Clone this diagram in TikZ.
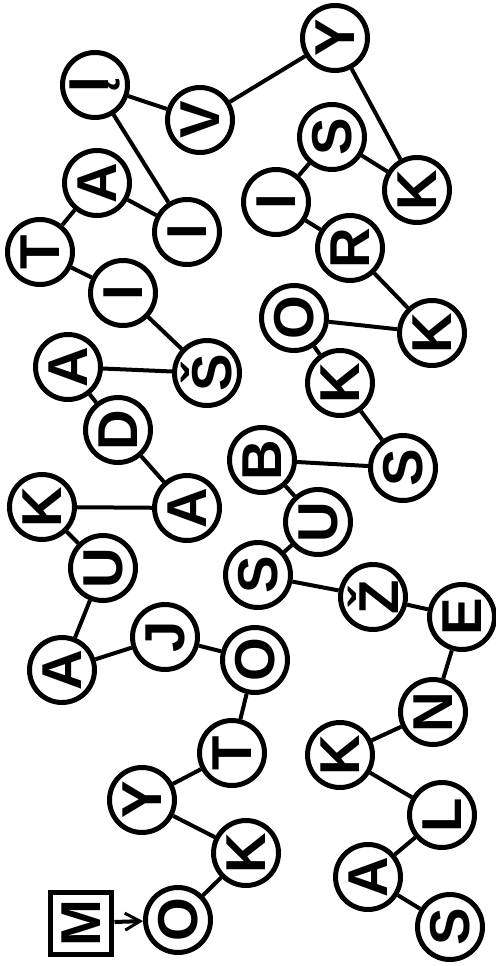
\documentclass[tikz,border=0pt]{standalone}
\usepackage{fontspec}
\setmainfont{Liberation Sans}
\usetikzlibrary{arrows.meta}
\begin{document}
\begin{tikzpicture}[x=0.02cm,y=-0.02cm,
  lt/.style={circle,draw,line width=0.1cm,minimum size=1.3cm,inner sep=0pt,rotate=90,
    font=\fontsize{32}{32}\selectfont\bfseries},
  bx/.style={rectangle,draw,line width=0.1cm,minimum size=1.24cm,inner sep=0pt,rotate=90,
    font=\fontsize{32}{32}\selectfont\bfseries},
  ln/.style={line width=0.08cm}]
\useasboundingbox (0,0) rectangle (495,966);
\node[bx] (m) at (81,923) {M};
\node[lt] (o1) at (178,920) {O};
\node[lt] (k1) at (246,853) {K};
\node[lt] (y1) at (142,800) {Y};
\node[lt] (t1) at (232,753) {T};
\node[lt] (o2) at (255,660) {O};
\node[lt] (j) at (165,637) {J};
\node[lt] (a1) at (62,670) {A};
\node[lt] (u1) at (103,568) {U};
\node[lt] (k2) at (42,507) {K};
\node[lt] (a2) at (187,508) {A};
\node[lt] (d) at (118,430) {D};
\node[lt] (a3) at (68,367) {A};
\node[lt] (sh) at (207,373) {Š};
\node[lt] (i1) at (123,293) {I};
\node[lt] (t2) at (40,252) {T};
\node[lt] (a4) at (97,183) {A};
\node[lt] (i2) at (187,232) {I};
\node[lt] (ii) at (95,85) {Į};
\node[lt] (v) at (200,120) {V};
\node[lt] (y2) at (335,38) {Y};
\node[lt] (k3) at (417,190) {K};
\node[lt] (s1) at (332,137) {S};
\node[lt] (i3) at (276,202) {I};
\node[lt] (r) at (350,248) {R};
\node[lt] (k4) at (432,333) {K};
\node[lt] (o3) at (294,318) {O};
\node[lt] (k5) at (340,383) {K};
\node[lt] (s2) at (403,468) {S};
\node[lt] (b) at (262,460) {B};
\node[lt] (u2) at (318,522) {U};
\node[lt] (s3) at (258,575) {S};
\node[lt] (zh) at (373,597) {Ž};
\node[lt] (e) at (462,617) {E};
\node[lt] (n) at (433,712) {N};
\node[lt] (k6) at (340,755) {K};
\node[lt] (l) at (442,815) {L};
\node[lt] (a5) at (368,877) {A};
\node[lt] (s4) at (450,927) {S};
\draw[ln,-{Straight Barb[length=0.3cm,width=0.34cm,line width=0.06cm]}] (m) -- (o1);
\draw[ln] (o1) -- (k1) (k1) -- (y1) (y1) -- (t1) (t1) -- (o2) (o2) -- (j) (j) -- (a1)
  (a1) -- (u1) (u1) -- (k2) (k2) -- (a2) (a2) -- (d) (d) -- (a3) (a3) -- (sh)
  (sh) -- (i1) (i1) -- (t2) (t2) -- (a4) (a4) -- (i2) (i2) -- (ii) (ii) -- (v)
  (v) -- (y2) (y2) -- (k3) (k3) -- (s1) (s1) -- (i3) (i3) -- (r) (r) -- (k4)
  (k4) -- (o3) (o3) -- (k5) (k5) -- (s2) (s2) -- (b) (b) -- (u2) (u2) -- (s3)
  (s3) -- (zh) (zh) -- (e) (e) -- (n) (n) -- (k6) (k6) -- (l) (l) -- (a5) (a5) -- (s4);
\end{tikzpicture}
\end{document}
